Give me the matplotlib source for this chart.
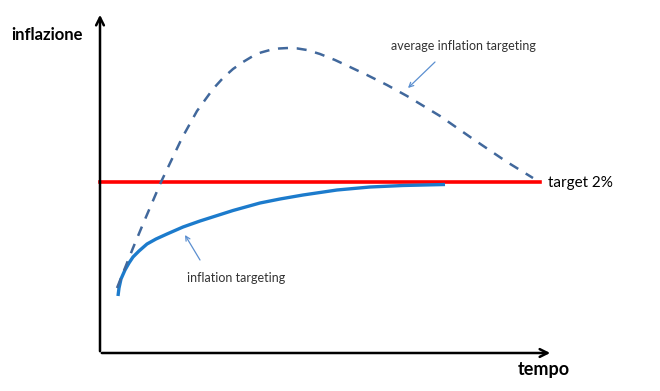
import matplotlib.pyplot as plt

plt.rcParams['font.family'] = ['Lato', 'DejaVu Sans']

# curves (x = time, y = inflation, in picture units)
it_x = [118, 119, 121, 125, 129, 133, 139, 147, 156, 167, 183, 200, 233, 260,
        280, 303, 337, 370, 403, 445]
it_y = [95, 103, 112, 121, 128, 134, 140, 147, 152, 157, 164, 170, 180.5, 188,
        192, 196, 201, 204, 205.5, 206.5]

ait_x = [117, 123, 133, 143, 152, 161, 172, 182, 197, 213, 223, 233, 243, 253,
         261, 270, 279, 288, 297, 307, 320, 335, 350, 367, 387, 407, 440, 473,
         507, 533]
ait_y = [103, 118, 143, 167, 188, 209, 232, 253, 280, 302, 313, 322, 329, 335,
         338.5, 341, 342.5, 343, 342.6, 341, 337, 331, 324, 316, 306, 295, 275,
         252, 229, 213]

target_x = [100, 540]
target_y = [209.5, 209.5]

fig = plt.figure(figsize=(6.6, 3.91), dpi=100)
ax = fig.add_axes([0, 0, 1, 1])
ax.set_xlim(0, 660)
ax.set_ylim(0, 391)
ax.axis('off')

# axes with arrow heads
arrow = dict(arrowstyle='->', color='black', lw=1.8, mutation_scale=14)
ax.annotate('', xy=(100, 379), xytext=(100, 37), arrowprops=arrow)
ax.annotate('', xy=(553, 38), xytext=(99, 38), arrowprops=arrow)

ax.plot(target_x, target_y, color='#FF0000', lw=2.6)
ax.plot(it_x, it_y, color='#1C7BCC', lw=2.4, solid_capstyle='butt',
        solid_joinstyle='round')
ax.plot(ait_x, ait_y, color='#41689C', lw=1.8, dashes=(4, 3.5),
        dash_joinstyle='round')

ax.text(11, 356, 'inflazione', fontsize=12, fontweight='bold', va='center')
ax.text(544, 21, 'tempo', fontsize=13, fontweight='bold', ha='center', va='center')
ax.text(548, 208, 'target 2%', fontsize=11, va='center')

thin = dict(arrowstyle='->', color='#5B8FD0', lw=0.9, mutation_scale=8,
            shrinkA=0, shrinkB=0)
ax.text(463, 345, 'average inflation targeting', fontsize=9, ha='center',
        va='center', color='#333333')
ax.annotate('', xy=(408, 303), xytext=(435, 329), arrowprops=thin)
ax.text(236, 113, 'inflation targeting', fontsize=9, ha='center',
        va='center', color='#333333')
ax.annotate('', xy=(185, 156), xytext=(200, 131), arrowprops=thin)

fig.savefig('out.png', dpi=100)
